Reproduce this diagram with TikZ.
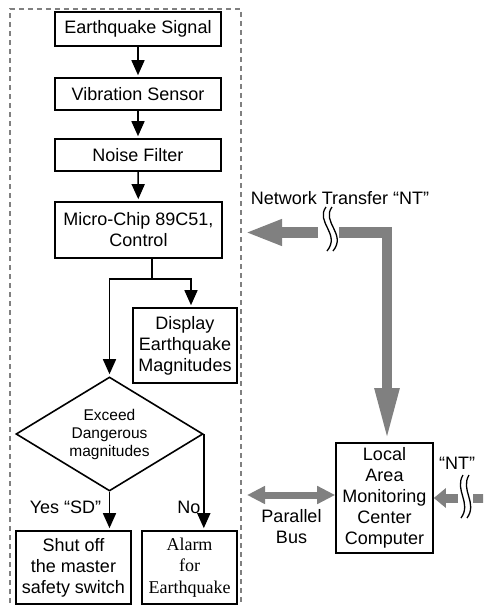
\documentclass[tikz,border=0pt]{standalone}
\usepackage{fontspec}
\setmainfont{Liberation Sans}
\newfontfamily\tms{Liberation Serif}
\usetikzlibrary{arrows.meta,shapes.geometric}
\begin{document}
\begin{tikzpicture}[x=1pt,y=-1pt,
  box/.style={draw, line width=1.6pt, rectangle, inner sep=0pt, align=center,
    font=\fontsize{18}{21}\selectfont},
  arr/.style={line width=1.5pt, -{Triangle[length=15pt,width=13pt]}, shorten >=2pt},
  ln/.style={line width=1.5pt},
  garr/.style={draw=gray, line width=10.5pt, line join=miter},
  brk/.style={line width=1.3pt},
  lbl/.style={font=\fontsize{18}{21}\selectfont, align=center, inner sep=0pt}]
\clip (0,0) rectangle (483,605);
\useasboundingbox (0,0) rectangle (483,605);
% dashed frame
\draw[gray, line width=1.4pt, dash pattern=on 5pt off 4pt] (10,612) -- (10,9) -- (241,9) -- (241,612);
% boxes
\node[box, minimum width=166pt, minimum height=34pt] (sig) at (138,29) {Earthquake Signal};
\node[box, minimum width=166pt, minimum height=32pt] (vib) at (138,94) {Vibration Sensor};
\node[box, minimum width=166pt, minimum height=32pt] (noise) at (138,155) {Noise Filter};
\node[box, minimum width=167pt, minimum height=56pt] (micro) at (138.5,230) {Micro-Chip 89C51,\\Control};
\node[box, minimum width=104pt, minimum height=75pt] (disp) at (185,345.5) {Display\\Earthquake\\Magnitudes};
\node[diamond, draw, line width=1.6pt, minimum width=187pt, minimum height=114pt, aspect=1.64, inner sep=0pt] (dia) at (109.5,434) {};
\node[font=\fontsize{15.5}{18}\selectfont, align=center, inner sep=0pt] (diat) at (dia.center) {Exceed\\Dangerous\\magnitudes};
\node[box, minimum width=115pt, minimum height=73pt] (shut) at (73.5,567.5) {Shut off\\the master\\safety switch};
\node[box, minimum width=95pt, minimum height=73pt, font=\tms\fontsize{18}{21.5}\selectfont] (alarm) at (189.5,567.5) {Alarm\\for\\Earthquake};
\node[box, minimum width=97pt, minimum height=110pt, font=\fontsize{18}{21}\selectfont] (local) at (384.5,498) {Local\\Area\\Monitoring\\Center\\Computer};
% black connectors
\draw[arr] (sig) -- (vib);
\draw[arr] (vib) -- (noise);
\draw[arr] (noise) -- (micro);
\coordinate (j) at (152,279);
\coordinate (jl) at (109.5,279);
\coordinate (jr) at (191,279);
\draw[ln] (micro.south -| j) -- (j);
\draw[arr, line join=miter] (jl) -- (jr) -- (jr |- disp.north);
\draw[arr] (j) -- (jl) -- (dia.north);
\draw[arr] (dia.south) -- (dia.south |- shut.north);
\draw[arr] (dia.east) -- (dia.east |- alarm.north);
\node[lbl] (yes) at (65.5,507) {Yes \char"201C SD\char"201D};
\node[lbl] (no) at (189,507) {No};
% network transfer (top)
\node[lbl] (ntt) at (340,198) {Network Transfer \char"201C NT\char"201D};
\coordinate (b1) at (318,232.5);
\coordinate (b2) at (339,232.5);
\coordinate (ta) at (245,232.5);
\coordinate (corner) at (387,232.5);
\draw[garr, -{Triangle[length=37pt,width=24pt]}] (b1) -- (ta);
\draw[garr, -{Triangle[length=54pt,width=22pt]}] (b2) -- (corner) -- (corner |- local.north);
\draw[brk] (326,207) .. controls (315,222) and (341,234) .. (327,251);
\draw[brk] (332,207) .. controls (321,222) and (347,234) .. (333,251);
% parallel bus
\coordinate (pb) at (247,495);
\draw[draw=gray, line width=7pt, {Triangle[length=18pt,width=17pt]}-{Triangle[length=18pt,width=17pt]}] (pb) -- (local.west |- pb);
\node[lbl] (pbt) at (291.5,527) {Parallel\\Bus};
% right NT
\coordinate (r0) at (484,498);
\coordinate (r1) at (473,498);
\coordinate (r2) at (458,498);
\draw[draw=gray, line width=9pt] (r0) -- (r1);
\draw[draw=gray, line width=9pt, -{Triangle[length=12pt,width=19pt]}] (r2) -- (local.east |- r2);
\draw[brk] (463,475) .. controls (454,490) and (472,503) .. (461,518);
\draw[brk] (469,475) .. controls (460,490) and (478,503) .. (467,518);
\node[lbl] (ntr) at (457,463) {\char"201C NT\char"201D};
\end{tikzpicture}
\end{document}
